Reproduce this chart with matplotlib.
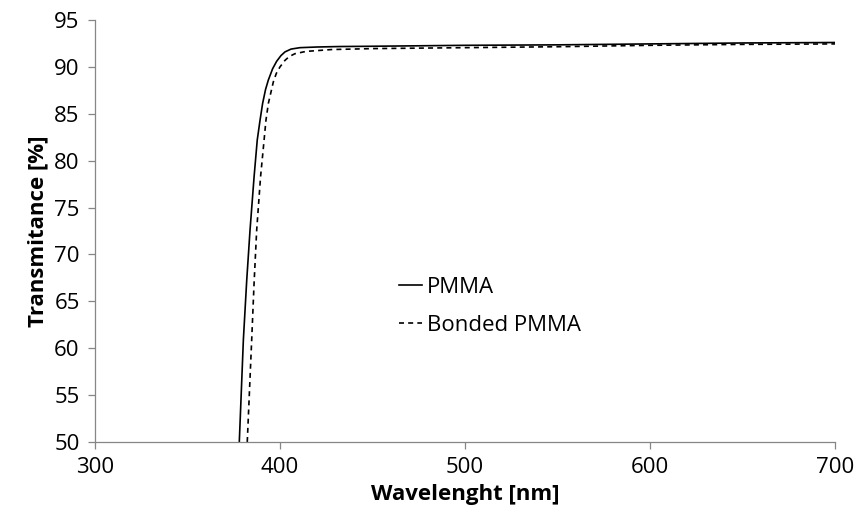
import numpy as np
import matplotlib
matplotlib.use("Agg")
import matplotlib.pyplot as plt

# values
wl_pmma = [378, 380.2, 382, 383.8, 386, 387.7, 389.2, 390.6, 392.2, 393.7, 396, 398.2, 400.5,
           402.7, 406, 410.8, 420, 432, 450, 500, 550, 600, 650, 700]
t_pmma = [50, 60.9, 67.2, 72.6, 78.3, 82.2, 84.3, 86.1, 87.6, 88.6, 89.8, 90.6, 91.2,
          91.6, 91.9, 92.05, 92.12, 92.17, 92.2, 92.3, 92.35, 92.45, 92.55, 92.6]

wl_bonded = [382.3, 384.7, 386, 387.4, 389.5, 391.4, 392.4, 393.7, 396.4, 398, 400, 402.7,
             405, 408, 414, 428, 450, 500, 550, 600, 650, 700]
t_bonded = [50, 60.9, 67, 72.6, 78.3, 82.2, 84.3, 86.1, 88.4, 89.3, 90.0, 90.7,
            91.1, 91.4, 91.65, 91.85, 91.95, 92.05, 92.15, 92.3, 92.4, 92.45]

xticks = [300, 400, 500, 600, 700]
yticks = [50, 55, 60, 65, 70, 75, 80, 85, 90, 95]

plt.rcParams['font.family'] = ['Open Sans', 'DejaVu Sans']

fig = plt.figure(figsize=(8.57, 5.28), dpi=100)
ax = fig.add_axes([95 / 857, 1 - 442 / 528, (835 - 95) / 857, (442 - 20) / 528])

ax.plot(wl_pmma, t_pmma, color='black', lw=1.2, label='PMMA')
ax.plot(wl_bonded, t_bonded, color='black', lw=1.2, linestyle=(0, (3, 2.5)), label='Bonded PMMA')

ax.set_xlim(300, 700)
ax.set_ylim(50, 95)
ax.set_xticks(xticks)
ax.set_yticks(yticks)
ax.tick_params(labelsize=16, length=5, width=0.9, color='#868686', pad=6)

for s in ['top', 'right']:
    ax.spines[s].set_visible(False)
for s in ['left', 'bottom']:
    ax.spines[s].set_color('#868686')
    ax.spines[s].set_linewidth(0.9)

ax.set_xlabel("Wavelenght [nm]", fontsize=16, fontweight='bold', labelpad=4)
ax.set_ylabel("Transmitance [%]", fontsize=16, fontweight='bold', labelpad=4)

ax.legend(frameon=False, fontsize=16, handlelength=1.05, handletextpad=0.2,
          labelspacing=0.75, borderpad=0, borderaxespad=0,
          loc='upper left', bbox_to_anchor=(399 / 857, 1 - 277 / 528),
          bbox_transform=fig.transFigure)

fig.savefig("out.png", dpi=100)
